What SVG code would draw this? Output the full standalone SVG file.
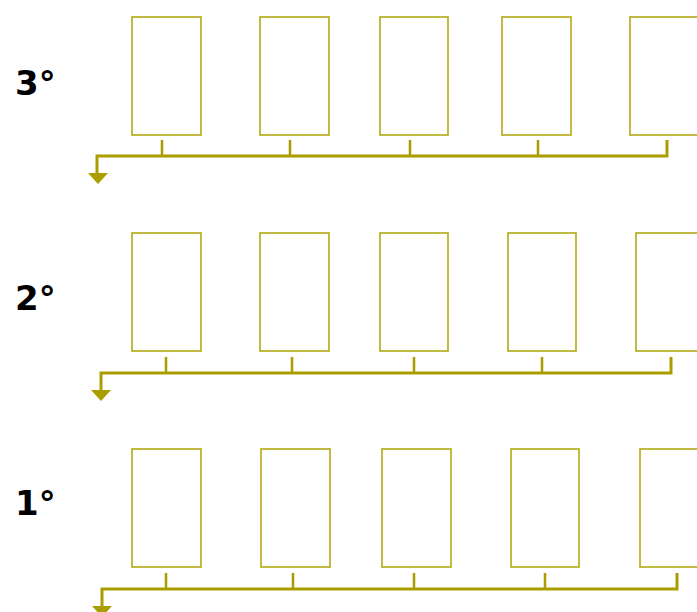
<svg xmlns="http://www.w3.org/2000/svg" width="697" height="612" viewBox="0 0 697 612">
<style>
.box{fill:#fff;stroke:#b5a912;stroke-width:1.6}
.bus{fill:none;stroke:#a99d00;stroke-width:3}
.tick{fill:none;stroke:#a99d00;stroke-width:2.5}
.head{fill:#a99d00}
.lbl{font-family:"DejaVu Sans",sans-serif;font-weight:bold;font-size:34px;fill:#000}
</style>
<rect width="697" height="612" fill="#fff"/>
<text class="lbl" x="15" y="95">3°</text>
<text class="lbl" x="15" y="310">2°</text>
<text class="lbl" x="15" y="515">1°</text>
<g id="r3b1"><rect class="box" x="132" y="17" width="69" height="118"/></g>
<g id="r3b2"><rect class="box" x="260" y="17" width="69" height="118"/></g>
<g id="r3b3"><rect class="box" x="380" y="17" width="68" height="118"/></g>
<g id="r3b4"><rect class="box" x="502" y="17" width="69" height="118"/></g>
<g id="r3b5"><rect class="box" x="630" y="17" width="69" height="118"/></g>
<g id="r2b1"><rect class="box" x="132" y="233" width="69" height="118"/></g>
<g id="r2b2"><rect class="box" x="260" y="233" width="69" height="118"/></g>
<g id="r2b3"><rect class="box" x="380" y="233" width="68" height="118"/></g>
<g id="r2b4"><rect class="box" x="508" y="233" width="68" height="118"/></g>
<g id="r2b5"><rect class="box" x="636" y="233" width="69" height="118"/></g>
<g id="r1b1"><rect class="box" x="132" y="449" width="69" height="118"/></g>
<g id="r1b2"><rect class="box" x="261" y="449" width="69" height="118"/></g>
<g id="r1b3"><rect class="box" x="382" y="449" width="69" height="118"/></g>
<g id="r1b4"><rect class="box" x="511" y="449" width="68" height="118"/></g>
<g id="r1b5"><rect class="box" x="640" y="449" width="69" height="118"/></g>
<g id="connectors">
<path class="bus" d="M667,140 V156 H97 V175"/>
<path class="tick" d="M162,140 V156 M290,140 V156 M410,140 V156 M538,140 V156"/>
<polygon class="head" points="88,173 108,173 98,184"/>
<path class="bus" d="M671,357 V373 H101 V392"/>
<path class="tick" d="M166,357 V373 M292,357 V373 M414,357 V373 M542,357 V373"/>
<polygon class="head" points="91,390 111,390 101,401"/>
<path class="bus" d="M677,573 V589 H102 V607"/>
<path class="tick" d="M166,573 V589 M293,573 V589 M414,573 V589 M545,573 V589"/>
<polygon class="head" points="92,606 112,606 102,617"/>
</g>
</svg>
